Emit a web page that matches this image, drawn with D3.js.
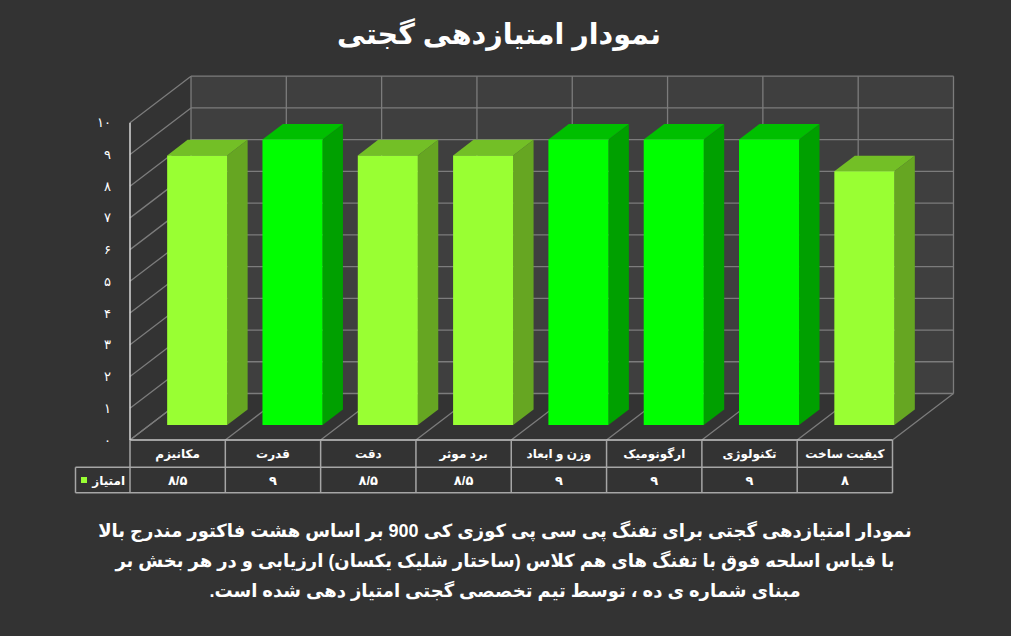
<!DOCTYPE html>
<html><head><meta charset="utf-8">
<script src="https://cdn.jsdelivr.net/npm/d3@7/dist/d3.min.js"></script>
<style>
html,body{margin:0;padding:0;background:#333333;}
svg{display:block;}
text{font-family:Arial,"DejaVu Sans",sans-serif;fill:#ffffff;}
</style></head>
<body>
<svg id="chart" width="1011" height="636"></svg>
<script>
const title = "نمودار امتیازدهی گجتی";
const categories = ["مکانیزم","قدرت","دقت","برد موثر","وزن و ابعاد","ارگونومیک","تکنولوژی","کیفیت ساخت"];
const values = [8.5, 9, 8.5, 8.5, 9, 9, 9, 8];
const valueLabels = ["۸/۵","۹","۸/۵","۸/۵","۹","۹","۹","۸"];
const yTicks = [0,1,2,3,4,5,6,7,8,9,10];
const yTickLabels = ["۰","۱","۲","۳","۴","۵","۶","۷","۸","۹","۱۰"];
const seriesName = "امتیاز";
const noteLines = [
  "نمودار امتیازدهی گجتی برای تفنگ پی سی پی کوزی کی 900 بر اساس هشت فاکتور مندرج بالا",
  "با قیاس اسلحه فوق با تفنگ های هم کلاس (ساختار شلیک یکسان) ارزیابی و در هر بخش بر",
  "مبنای شماره ی ده ، توسط تیم تخصصی گجتی امتیاز دهی شده است."
];

const svg = d3.select("#chart");
const left = 130, right = 892.5, floorY = 440, topY = 122.7;
const DX = 61, DY = -46.5;           // full depth offset
const d0 = 0.32, d1 = 0.655;          // bar depth range

const x = d3.scaleBand().domain(categories).range([left, right]).paddingInner(0).paddingOuter(0);
const y = d3.scaleLinear().domain([0, 10]).range([floorY, topY]);
const bw = x.bandwidth() * 0.63;
const P = (xf, v, d) => [xf + d * DX, y(v) + d * DY];

const gridCol = "#7c7c7c";

// back wall
const bl = P(left, 10, 1), br = P(right, 0, 1);
svg.append("rect").attr("x", bl[0]).attr("y", bl[1]).attr("width", br[0] - bl[0]).attr("height", br[1] - bl[1])
  .attr("fill", "#3f3f3f");

const grid = svg.append("g").attr("stroke", gridCol).attr("stroke-width", 1.3).attr("fill", "none");
yTicks.forEach(t => {
  const a = P(left, t, 1), b = P(right, t, 1);
  grid.append("line").attr("x1", a[0]).attr("y1", a[1]).attr("x2", b[0]).attr("y2", b[1]);
  const c = P(left, t, 0);
  grid.append("line").attr("x1", c[0]).attr("y1", c[1]).attr("x2", a[0]).attr("y2", a[1]);
});
const bounds = categories.map(c => x(c)).concat([right]);
bounds.forEach(bx => {
  const a = P(bx, 0, 1), b = P(bx, 10, 1);
  grid.append("line").attr("x1", a[0]).attr("y1", a[1]).attr("x2", b[0]).attr("y2", b[1]);
  const f = P(bx, 0, 0);
  grid.append("line").attr("x1", f[0]).attr("y1", f[1]).attr("x2", a[0]).attr("y2", a[1]);
});

// y axis line
svg.append("line").attr("x1", left).attr("y1", y(10)).attr("x2", left).attr("y2", y(0))
  .attr("stroke", "#d9d9d9").attr("stroke-width", 1.5);

// y tick labels
svg.append("g").selectAll("text").data(yTicks).join("text")
  .attr("x", 111).attr("y", d => y(d) + 4.5)
  .attr("text-anchor", "end").attr("font-size", 13)
  .text((d, i) => yTickLabels[i]);

// bars
const maxV = d3.max(values);
const pal = {
  hi: {front: "#00ff00", top: "#00bf00", side: "#00a000"},
  lo: {front: "#99ff33", top: "#73bf26", side: "#66a622"}
};
const bars = svg.append("g");
categories.forEach((c, i) => {
  const v = values[i];
  const col = v === maxV ? pal.hi : pal.lo;
  const xl = x(c) + (x.bandwidth() - bw) / 2, xr = xl + bw;
  const fTL = P(xl, v, d0), fTR = P(xr, v, d0), fBR = P(xr, 0, d0), fBL = P(xl, 0, d0);
  const bTL = P(xl, v, d1), bTR = P(xr, v, d1), bBR = P(xr, 0, d1);
  const poly = pts => pts.map(p => p.join(",")).join(" ");
  bars.append("polygon").attr("points", poly([fTR, bTR, bBR, fBR])).attr("fill", col.side);
  bars.append("polygon").attr("points", poly([fTL, bTL, bTR, fTR])).attr("fill", col.top);
  bars.append("polygon").attr("points", poly([fTL, fTR, fBR, fBL])).attr("fill", col.front);
});

// data table
const row1 = floorY, row2 = 467.3, row3 = 492.8, legL = 75.5;
const tb = svg.append("g").attr("stroke", "#a6a6a6").attr("stroke-width", 1.5).attr("fill", "none");
tb.append("line").attr("x1", left).attr("y1", row1).attr("x2", right).attr("y2", row1).attr("stroke", "#c8c8c8");
tb.append("line").attr("x1", legL).attr("y1", row2).attr("x2", right).attr("y2", row2);
tb.append("line").attr("x1", legL).attr("y1", row3).attr("x2", right).attr("y2", row3);
tb.append("line").attr("x1", legL).attr("y1", row2).attr("x2", legL).attr("y2", row3);
bounds.forEach(bx => {
  tb.append("line").attr("x1", bx).attr("y1", row1).attr("x2", bx).attr("y2", row3);
});
svg.append("g").selectAll("text").data(categories).join("text")
  .attr("x", d => x(d) + x.bandwidth() / 2).attr("y", 458)
  .attr("text-anchor", "middle").attr("font-size", 12).attr("font-weight", "bold")
  .text(d => d);
svg.append("g").selectAll("text").data(valueLabels).join("text")
  .attr("x", (d, i) => x(categories[i]) + x.bandwidth() / 2).attr("y", 485)
  .attr("text-anchor", "middle").attr("font-size", 13).attr("font-weight", "bold")
  .text(d => d);
svg.append("rect").attr("x", 81).attr("y", 477).attr("width", 6).attr("height", 6).attr("fill", pal.lo.front);
svg.append("text").attr("x", 125).attr("y", 485).attr("text-anchor", "end")
  .attr("font-size", 12).attr("font-weight", "bold").text(seriesName);

// title
svg.append("text").attr("x", 499).attr("y", 44).attr("text-anchor", "middle")
  .attr("font-size", 28.6).attr("font-weight", "bold").text(title);

// note
svg.append("g").selectAll("text").data(noteLines).join("text")
  .attr("x", 505).attr("y", (d, i) => 537 + i * 30)
  .attr("text-anchor", "middle").attr("direction", "rtl")
  .attr("font-size", 18).attr("font-weight", "bold")
  .text(d => d);
</script>
</body></html>
